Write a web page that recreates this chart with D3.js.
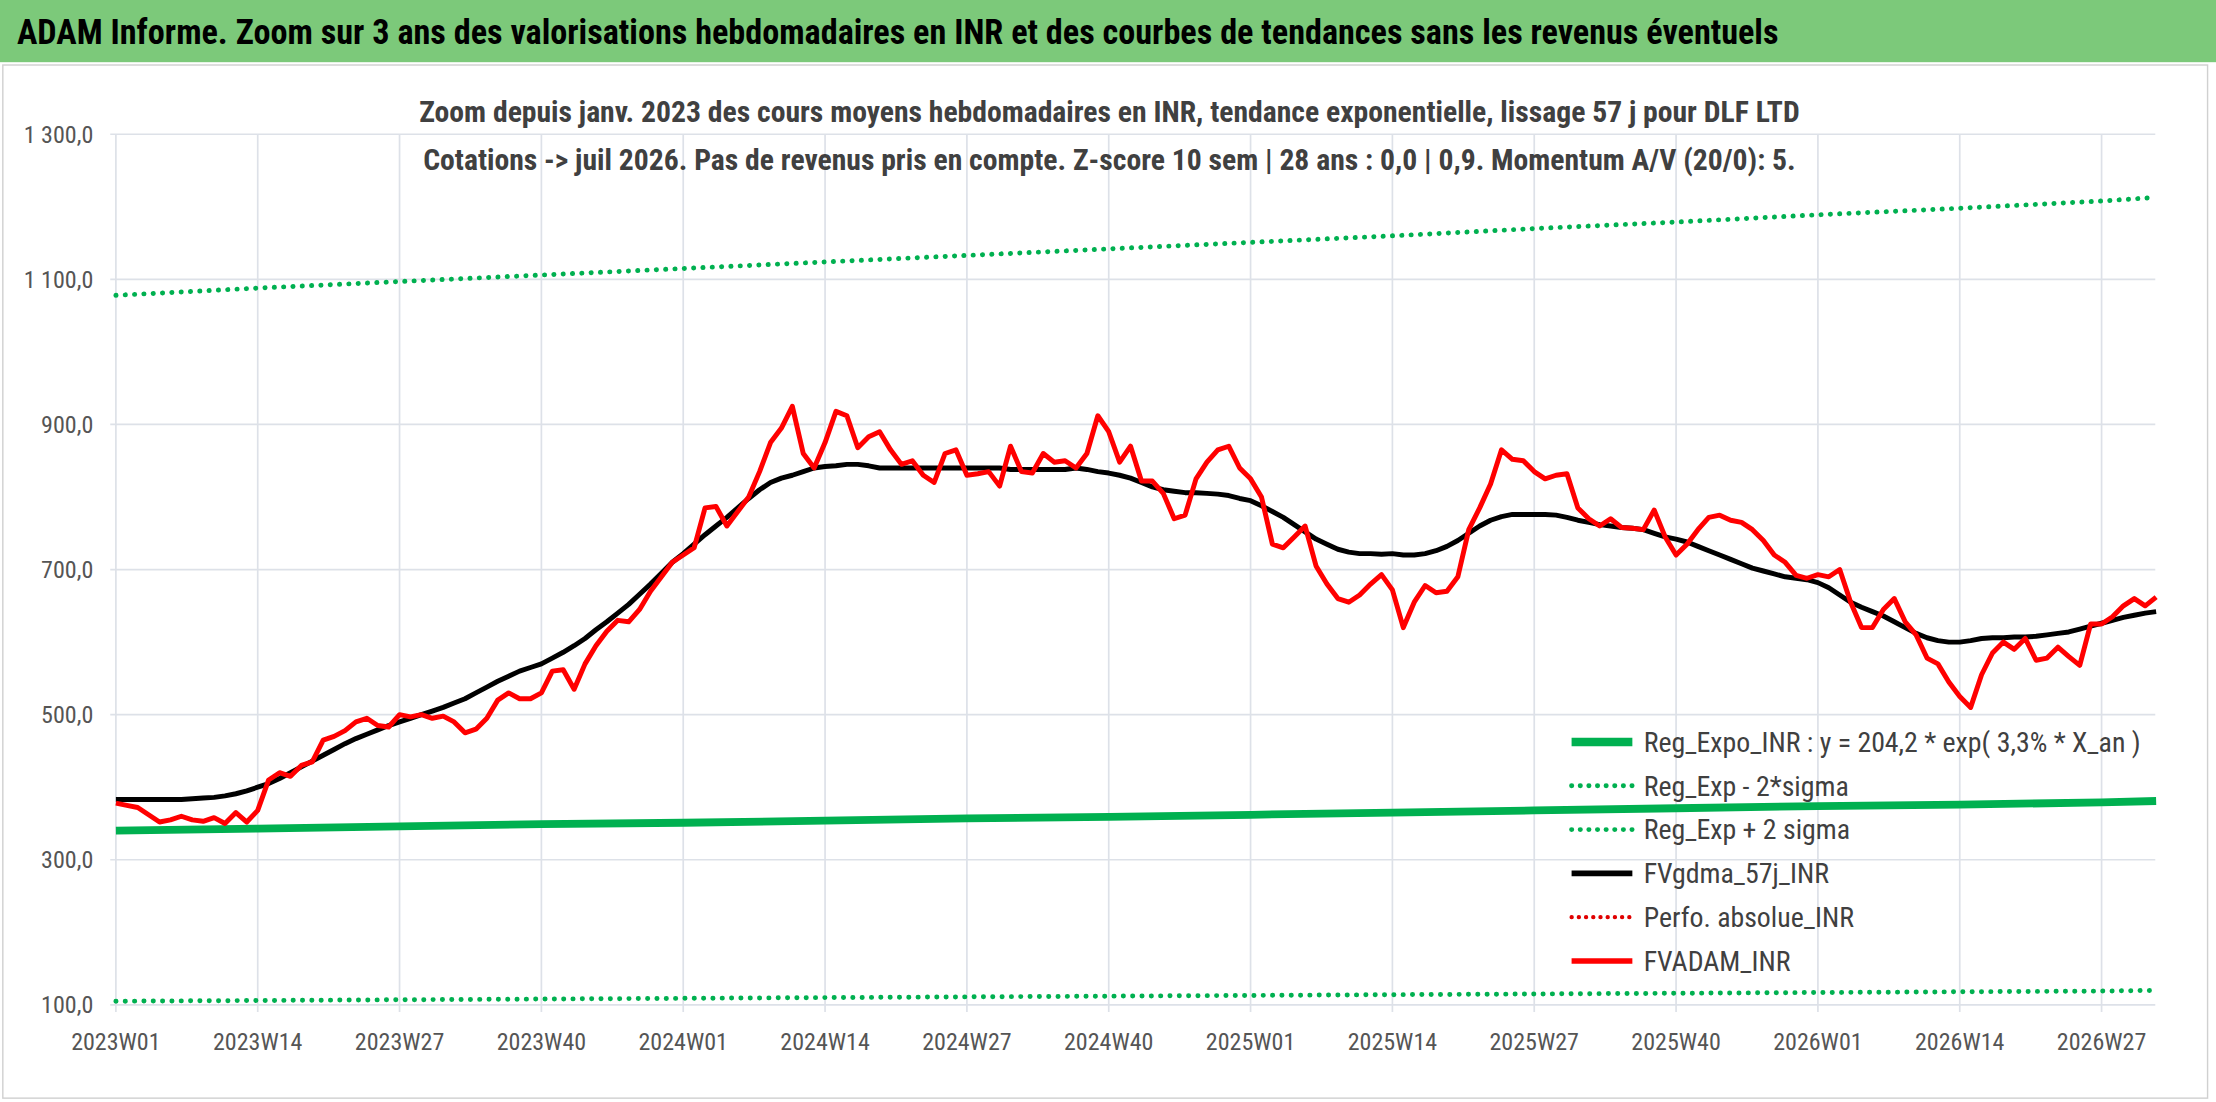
<!DOCTYPE html>
<html><head><meta charset="utf-8">
<script src="https://cdn.jsdelivr.net/npm/d3@7"></script>
<style>body{margin:0;background:#fff}svg{display:block}</style>
</head><body><svg id="c" width="2216" height="1102"></svg>
<script>
const title = "ADAM Informe. Zoom sur 3 ans des valorisations hebdomadaires en INR et des courbes de tendances sans les revenus éventuels";
const subtitle = ["Zoom depuis janv. 2023 des cours moyens hebdomadaires en INR, tendance exponentielle, lissage 57 j pour DLF LTD",
  "Cotations -> juil 2026. Pas de revenus pris en compte. Z-score 10 sem | 28 ans : 0,0 | 0,9. Momentum A/V (20/0): 5."];
const yTicks = [100,300,500,700,900,1100,1300];
const xTickLabels = ["2023W01","2023W14","2023W27","2023W40","2024W01","2024W14","2024W27","2024W40","2025W01","2025W14","2025W27","2025W40","2026W01","2026W14","2026W27"];
const fvadam = [
378,375,372,362,352,355,360,355,353,358,350,365,352,
368,410,420,415,430,435,465,470,478,490,495,485,483,
500,497,500,495,498,490,475,480,495,520,530,522,522,
530,560,562,535,570,595,615,630,628,645,670,690,710,
720,730,785,787,760,780,800,835,875,895,925,860,840,
875,918,912,868,883,890,865,845,850,830,820,860,865,
830,832,835,815,870,835,833,860,848,850,840,860,912,
890,848,870,822,822,805,770,775,825,848,865,870,840,
825,800,735,730,745,760,705,680,660,655,665,680,693,
672,620,655,678,668,670,690,755,785,818,865,852,850,
835,825,830,832,785,770,760,770,758,757,755,782,745,
720,735,755,772,775,768,765,755,740,720,710,692,688,
693,690,700,655,620,620,645,660,628,610,578,570,545,
525,510,555,585,600,590,605,575,578,593,580,568,625,
625,635,650,660,650,662];
const fvgdma = [
383,383,383,383,383,383,383,384,385,386,388,391,395,
400,405,412,420,428,436,444,452,460,467,473,479,485,
490,495,500,505,510,516,522,530,538,546,553,560,565,
570,578,586,595,605,617,628,640,652,666,680,695,710,
722,735,748,760,772,785,798,810,820,826,830,835,840,
842,843,845,845,843,840,840,840,840,840,840,840,840,
840,840,840,840,838,838,838,838,838,838,840,838,835,
833,830,826,820,814,810,808,806,806,805,804,802,798,
795,788,780,772,762,752,742,735,728,724,722,722,721,
722,720,720,722,726,732,740,750,760,768,773,776,776,
776,776,775,772,768,765,762,760,758,757,755,750,745,
742,738,732,726,720,714,708,702,698,694,690,688,686,
682,675,665,655,648,642,636,628,620,612,606,602,600,
600,602,605,606,606,607,607,608,610,612,614,618,622,
626,630,634,637,640,642];
const trendIdx = [0,13,26,39,52,65,78,91,104,117,130,143,156,169,182,187];
const regExpo = [340,343,346,349,351,354,357,359,362,365,368,371,374,376,379,381];
const regLow  = [105,106,107,108,109,110,111,112,113,114,115,116,117,118,119,120];
const regHigh = [1078,1088,1097,1106,1115,1124,1133,1142,1151,1160,1170,1179,1189,1198,1208,1213];
const legendItems = [
 {t:"Reg_Expo_INR : y = 204,2 * exp( 3,3% *  X_an )", c:"#00b050", w:6, d:null},
 {t:"Reg_Exp - 2*sigma", c:"#00b050", w:3.5, d:"0.1 6"},
 {t:"Reg_Exp + 2 sigma", c:"#00b050", w:3.5, d:"0.1 6"},
 {t:"FVgdma_57j_INR", c:"#000", w:4, d:null},
 {t:"Perfo. absolue_INR", c:"#e00000", w:3, d:"0.1 5"},
 {t:"FVADAM_INR", c:"#ff0000", w:4, d:null}];

const svg = d3.select("#c").append("g").attr("transform","scale(1.4133)");
const F = "'Liberation Sans Narrow','Roboto Condensed','Liberation Sans',sans-serif";
svg.append("rect").attr("x",0).attr("y",0).attr("width",1568).attr("height",44).attr("fill","#7cc97a");
svg.append("text").attr("x",12).attr("y",31).attr("font-family",F).attr("font-weight","bold").attr("font-size",24.2).attr("fill","#000").text(title);
svg.append("rect").attr("x",2).attr("y",46).attr("width",1560).attr("height",731).attr("fill","none").attr("stroke","#d0d0d0");

const x = d3.scaleLinear().domain([0,182]).range([82,1487]);
const y = d3.scaleLinear().domain([100,1300]).range([711,95]);
const g = svg.append("g");
g.selectAll(".hg").data(yTicks).join("line").attr("x1",78).attr("x2",1525).attr("y1",d=>y(d)).attr("y2",d=>y(d)).attr("stroke","#dde1e8").attr("stroke-width",1.2);
g.selectAll(".vg").data(xTickLabels).join("line").attr("x1",(d,i)=>x(i*13)).attr("x2",(d,i)=>x(i*13)).attr("y1",95).attr("y2",716).attr("stroke","#dde1e8").attr("stroke-width",1.2);
g.selectAll(".yl").data(yTicks).join("text").attr("x",66).attr("y",d=>y(d)+6).attr("text-anchor","end").attr("font-family",F).attr("font-size",17).attr("fill","#555").text(d=>d3.format(",.1f")(d).replace(",","\u202f").replace(".",",").replace("\u202f"," "));
g.selectAll(".xl").data(xTickLabels).join("text").attr("x",(d,i)=>x(i*13)).attr("y",743).attr("text-anchor","middle").attr("font-family",F).attr("font-size",17).attr("fill","#555").text(d=>d);
subtitle.forEach((s,i)=>svg.append("text").attr("x",785).attr("y",86+i*34).attr("text-anchor","middle").attr("font-family",F).attr("font-weight","bold").attr("font-size",21).attr("fill","#404040").text(s));

const line = d3.line().x(d=>x(d[0])).y(d=>y(d[1]));
const tr = arr => trendIdx.map((k,i)=>[k,arr[i]]);
g.append("path").attr("d",line(tr(regLow))).attr("fill","none").attr("stroke","#00b050").attr("stroke-width",3.5).attr("stroke-linecap","round").attr("stroke-dasharray","0.1 6.5");
g.append("path").attr("d",line(tr(regHigh))).attr("fill","none").attr("stroke","#00b050").attr("stroke-width",3.5).attr("stroke-linecap","round").attr("stroke-dasharray","0.1 6.5");
g.append("path").attr("d",line(tr(regExpo))).attr("fill","none").attr("stroke","#00b050").attr("stroke-width",5.5);
g.append("path").attr("d",line(fvgdma.map((v,i)=>[i,v]))).attr("fill","none").attr("stroke","#000").attr("stroke-width",3.5).attr("stroke-linejoin","round");
g.append("path").attr("d",line(fvadam.map((v,i)=>[i,v]))).attr("fill","none").attr("stroke","#ff0000").attr("stroke-width",3.5).attr("stroke-linejoin","round");

const lg = svg.append("g");
legendItems.forEach((it,i)=>{
  const yy = 525 + i*31;
  lg.append("line").attr("x1",1112).attr("x2",1155).attr("y1",yy).attr("y2",yy).attr("stroke",it.c).attr("stroke-width",it.w).attr("stroke-linecap",it.d?"round":"butt").attr("stroke-dasharray",it.d);
  lg.append("text").attr("x",1163).attr("y",yy+7).attr("font-family",F).attr("font-size",19.7).attr("fill","#404040").text(it.t);
});
</script></body></html>
